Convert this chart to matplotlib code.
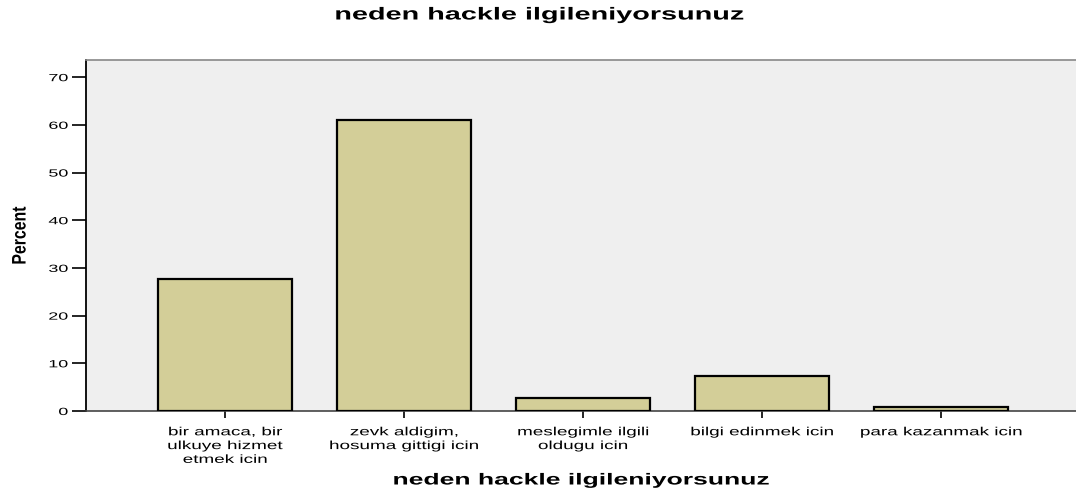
import numpy as np
import matplotlib
matplotlib.use('Agg')
import matplotlib.pyplot as plt
from matplotlib.patheffects import AbstractPathEffect
from matplotlib.transforms import Affine2D

plt.rcParams['font.family'] = ['Liberation Sans', 'DejaVu Sans']

# data
categories = ['bir amaca, bir\nulkuye hizmet\netmek icin',
              'zevk aldigim,\nhosuma gittigi icin',
              'meslegimle ilgili\noldugu icin',
              'bilgi edinmek icin',
              'para kazanmak icin']
percent = [27.7, 61.1, 2.7, 7.4, 0.9]
yticks = [0, 10, 20, 30, 40, 50, 60, 70]


# the original output has its text stretched sideways, this mimics that
class Stretch(AbstractPathEffect):
    def __init__(self, sx=1.0, sy=1.0, anchor='center'):
        super().__init__()
        self.sx, self.sy, self.anchor = sx, sy, anchor

    def draw_path(self, renderer, gc, tpath, affine, rgbFace=None):
        ext = tpath.get_extents()
        if self.anchor == 'center':
            cx = (ext.x0 + ext.x1) / 2
        elif self.anchor == 'right':
            cx = ext.x1
        else:
            cx = ext.x0
        t = Affine2D().translate(-cx, 0).scale(self.sx, self.sy).translate(cx, 0)
        renderer.draw_path(gc, tpath, t + affine, rgbFace)


fig = plt.figure(figsize=(10.76, 4.95), dpi=100)
ax = fig.add_axes([86/1076, 1 - 411/495, 1 - 86/1076, (411 - 60)/495])
ax.set_facecolor('#efefef')

x = np.arange(len(categories))
ax.bar(x, percent, width=0.75, color='#d3ce98', edgecolor='black', linewidth=1.6, zorder=3)

ax.set_xlim(-0.777, 4.754)
ax.set_ylim(0, 73.6)
ax.set_yticks(yticks)
ax.set_xticks(x)
ax.set_xticklabels(categories, fontsize=8.5, linespacing=1.2)
ax.tick_params(axis='y', length=10, width=1.2, color='black', labelsize=7.5, pad=3)
ax.tick_params(axis='x', length=5, width=1.2, color='black', pad=6)
for lab in ax.get_xticklabels():
    lab.set_path_effects([Stretch(1.6)])
for lab in ax.get_yticklabels():
    lab.set_path_effects([Stretch(1.72, anchor='right')])

ax.spines['left'].set_color('black')
ax.spines['left'].set_linewidth(1.3)
ax.spines['bottom'].set_color('#444444')
ax.spines['bottom'].set_linewidth(1.2)
ax.spines['top'].set_color('#888888')
ax.spines['top'].set_linewidth(1.2)
ax.spines['right'].set_visible(False)

ax.set_ylabel('Percent', fontsize=11.4, fontweight='bold', labelpad=20,
              path_effects=[Stretch(1.0, 1.24)])
fig.text(582/1076, 1 - 480/495, 'neden hackle ilgileniyorsunuz', ha='center', va='center',
         fontsize=11.5, fontweight='bold', path_effects=[Stretch(1.66)])
fig.text(540/1076, 1 - 15/495, 'neden hackle ilgileniyorsunuz', ha='center', va='center',
         fontsize=12.5, fontweight='bold', path_effects=[Stretch(1.66)])

fig.savefig('out.png', dpi=100)
